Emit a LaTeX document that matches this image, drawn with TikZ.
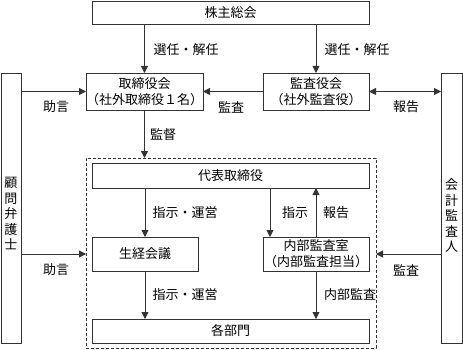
\documentclass[tikz,border=0pt]{standalone}
\usepackage{fontspec}
\newfontfamily\cjk{Noto Sans CJK JP}
\usetikzlibrary{arrows.meta}
\tikzset{
 box/.style={draw=black!80,line width=0.8pt,inner sep=0pt,outer sep=0pt,align=center,font=\cjk\fontsize{13}{16}\selectfont},
 dbox/.style={draw=black!80,line width=0.8pt,dash pattern=on 3pt off 2pt,inner sep=0pt,outer sep=0pt},
 lbl/.style={inner sep=0pt,align=center,font=\cjk\fontsize{13}{15.5}\selectfont},
 arr/.style={draw=black!80,line width=0.8pt,-{Triangle[length=7pt,width=7pt]}},
 darr/.style={draw=black!80,line width=0.8pt,{Triangle[length=7pt,width=7pt]}-{Triangle[length=7pt,width=7pt]}},
}
\begin{document}
\begin{tikzpicture}[x=1pt,y=-1pt]
\useasboundingbox (0,0) rectangle (463,350);
% boxes
\node[box,minimum width=277,minimum height=23] (soukai) at (230.5,12.5) {株主総会};
\node[box,minimum width=105,minimum height=37] (tori) at (144.5,91.5) {取締役会\\（社外取締役１名）};
\node[box,minimum width=106,minimum height=37] (kansa) at (316,91.5) {監査役会\\（社外監査役）};
\node[box,minimum width=20,minimum height=270] (komon) at (11,208) {};
\node[lbl] (komontext) at (11,214) {顧\\問\\弁\\護\\士};
\node[box,minimum width=21,minimum height=270] (kaikei) at (451.5,208) {};
\node[lbl] (kaikeitext) at (451.5,216) {会\\計\\監\\査\\人};
\node[dbox,minimum width=290,minimum height=190] (dbox) at (231,253) {};
\node[box,minimum width=277,minimum height=25] (daihyo) at (230.5,175.5) {代表取締役};
\node[box,minimum width=106,minimum height=34] (seikei) at (145,254) {生経会議};
\node[box,minimum width=106,minimum height=34] (naibu) at (316,254) {内部監査室\\（内部監査担当）};
\node[box,minimum width=277,minimum height=24] (kakubu) at (230.5,331) {各部門};
% connectors
\draw[arr] (soukai.south -| tori.north) -- (tori.north);
\draw[arr] (soukai.south -| kansa.north) -- (kansa.north);
\draw[arr] (komon.east |- tori.west) -- (tori.west);
\draw[arr] (kansa.west) -- (tori.east);
\draw[darr] (kansa.east) -- (kansa.east -| kaikei.west);
\draw[arr] (tori.south) -- (tori.south |- dbox.north);
\draw[arr] (daihyo.south -| seikei.north) -- (seikei.north);
\draw[arr] ([xshift=7pt]naibu.north west |- daihyo.south) -- ([xshift=7pt]naibu.north west);
\draw[arr] (naibu.north) -- (naibu.north |- daihyo.south);
\draw[arr] (komon.east |- seikei.west) -- (dbox.west |- seikei.west);
\draw[arr] (kaikei.west |- naibu.east) -- (dbox.east |- naibu.east);
\draw[arr] (seikei.south) -- (seikei.south |- kakubu.north);
\draw[arr] (naibu.south) -- (naibu.south |- kakubu.north);
% labels
\node[lbl] (l1) at (186,50) {選任・解任};
\node[lbl] (l2) at (357,50) {選任・解任};
\node[lbl] (l3) at (56,107) {助言};
\node[lbl] (l4) at (231,107) {監査};
\node[lbl] (l5) at (406,107) {報告};
\node[lbl] (l6) at (163,135) {監督};
\node[lbl] (l7) at (185,213) {指示・運営};
\node[lbl] (l8) at (295,213) {指示};
\node[lbl] (l9) at (336,213) {報告};
\node[lbl] (l10) at (56,270) {助言};
\node[lbl] (l11) at (406,270) {監査};
\node[lbl] (l12) at (185,295) {指示・運営};
\node[lbl] (l13) at (350,295) {内部監査};
\end{tikzpicture}
\end{document}
